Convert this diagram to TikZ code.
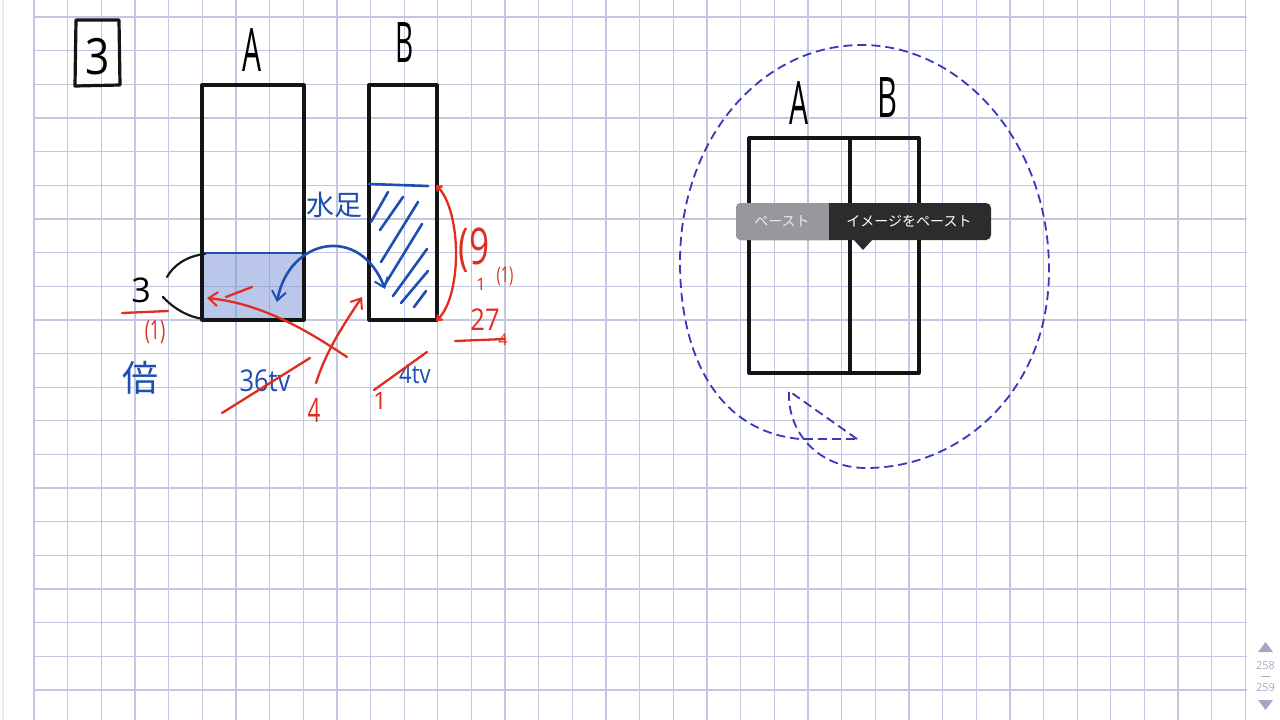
\documentclass[tikz,border=0pt]{standalone}
\usepackage{fontspec}
\setmainfont{Open Sans}
\newfontfamily\jp{Noto Sans CJK JP}
\usetikzlibrary{arrows.meta}
\definecolor{gridc}{RGB}{192,199,222}
\definecolor{inkblue}{RGB}{30,78,178}
\definecolor{inkred}{RGB}{226,44,30}
\definecolor{lasso}{RGB}{62,52,192}
\definecolor{waterblue}{RGB}{120,145,215}
\definecolor{popgray}{RGB}{152,152,156}
\definecolor{popdark}{RGB}{44,44,46}
\definecolor{scrollc}{RGB}{160,168,196}
\tikzset{
  gridline/.style={draw=gridc, line width=1.3pt},
  blackpen/.style={draw=black!92, line width=3.2pt, line cap=round, line join=round},
  thinblack/.style={draw=black!90, line width=2.2pt, line cap=round},
  bluepen/.style={draw=inkblue, line width=2.6pt, line cap=round, line join=round},
  redpen/.style={draw=inkred, line width=2.3pt, line cap=round, line join=round},
  hand/.style={inner sep=0pt, outer sep=0pt},
  barb/.style={-{Straight Barb[length=9pt,width=14pt,line width=2pt]}},
  dbarb/.style={{Straight Barb[length=9pt,width=14pt,line width=2pt]}-{Straight Barb[length=9pt,width=14pt,line width=2pt]}},
  lassopen/.style={draw=lasso, line width=1.8pt, dash pattern=on 9pt off 5pt, line join=round},
}
\begin{document}
\begin{tikzpicture}[x=1pt,y=-1pt]
\useasboundingbox (0,0) rectangle (1280,720);
\fill[white] (0,0) rectangle (1280,720);
% grid paper
\draw[draw=black!8, line width=1.2pt] (3,0) -- (3,720);
\foreach \i in {0,...,36} \draw[gridline] ({34+33.65*\i},0) -- ({34+33.65*\i},720);
\foreach \j in {0,...,20} \draw[gridline] (34,{17+33.65*\j}) -- (1247,{17+33.65*\j});

% ---------- left diagram ----------
\draw[blackpen] (76,20) -- (119,20) -- (120,85) -- (75,86) -- (76,20);
\node[hand, font=\fontsize{50}{50}\selectfont] (num) at (98,57) {\scalebox{0.85}[1]{3}};

\node[hand, font=\fontsize{60}{60}\selectfont] (labA) at (252,50) {\scalebox{0.5}[1]{A}};
\node[hand, font=\fontsize{56}{56}\selectfont] (labB) at (405,43) {\scalebox{0.5}[1]{B}};

% water in A
\fill[waterblue, fill opacity=0.5] (202,253) rectangle (304,320);
\draw[bluepen] (203,253) -- (303,253);
\node[draw=none, minimum width=102pt, minimum height=235pt, anchor=north west, inner sep=0pt] (boxA) at (202,85) {};
\draw[blackpen] (202,85) rectangle (304,320);
\node[draw=none, minimum width=68pt, minimum height=235pt, anchor=north west, inner sep=0pt] (boxB) at (369,85) {};
\draw[blackpen] (369,85) rectangle (437,320);

% brace with 3
\coordinate (brTop) at (205,254);
\coordinate (brBot) at (205,319);
\draw[thinblack] (brTop) .. controls (186,256) and (173,266) .. (167,277);
\draw[thinblack] (163,297) .. controls (174,309) and (190,318) .. (brBot);
\node[hand, font=\fontsize{34}{34}\selectfont] (three) at (141,290) {3};
\draw[redpen] (122,313) -- (168,311);
\node[hand, text=inkred, font=\fontsize{22}{22}\selectfont] (one) at (155,332) {\scalebox{0.8}[1.2]{(1)}};
\node[hand, text=inkblue, font=\jp\fontsize{36}{36}\selectfont] (bai) at (140,378) {倍};

% B hatch
\node[hand, text=inkblue, font=\jp\fontsize{28}{28}\selectfont] (mizu) at (334,205) {水足};
\draw[bluepen] (369,184) -- (428,186);
\draw[bluepen] (388,192) -- (371,222);
\draw[bluepen] (403,197) -- (380,230);
\draw[bluepen] (418,202) -- (381,262);
\draw[bluepen] (422,224) -- (384,286);
\draw[bluepen] (427,249) -- (393,296);
\draw[bluepen] (428,271) -- (401,303);
\draw[bluepen] (426,291) -- (414,307);

% blue double arrow A <-> B
\coordinate (arA) at (277,302);
\coordinate (arB) at (385,289);
\draw[bluepen, dbarb] (arA) .. controls (289,238) and (360,224) .. (arB);

% red strokes
\draw[redpen] (226,297) -- (252,287);
\coordinate (rA) at (207,298);
\coordinate (rStart) at (347,357);
\draw[redpen, barb] (rStart) .. controls (318,338) and (268,304) .. (rA);
\coordinate (rB) at (362,297);
\coordinate (rLow) at (316,383);
\draw[redpen, barb] (rLow) .. controls (326,352) and (340,330) .. (rB);
\node[hand, text=inkred, font=\fontsize{28}{28}\selectfont] (four) at (314,410) {\scalebox{0.8}[1.2]{4}};

\node[hand, text=inkblue, font=\fontsize{30}{30}\selectfont] (vA) at (265,381) {\scalebox{0.85}[1]{36tv}};
\draw[redpen] (222,413) -- (310,358);
\node[hand, text=inkblue, font=\fontsize{26}{26}\selectfont] (vB) at (415,374) {\scalebox{0.85}[1]{4tv}};
\draw[redpen] (374,390) -- (427,352);
\node[hand, text=inkred, font=\fontsize{24}{24}\selectfont] (oneB) at (380,401) {1};

% red bracket right of B
\coordinate (bTop) at (436,185);
\coordinate (bBot) at (436,321);
\draw[redpen, {Straight Barb[length=4pt,width=7pt]}-{Straight Barb[length=4pt,width=7pt]}] (bTop) .. controls (462,212) and (462,296) .. (bBot);
\node[hand, text=inkred, font=\fontsize{44}{44}\selectfont] (nine) at (474,250) {\scalebox{0.8}[1.15]{(9}};
\node[hand, text=inkred, font=\fontsize{17}{17}\selectfont] (oneC) at (481,284) {1};
\node[hand, text=inkred, font=\fontsize{18}{18}\selectfont] (oneD) at (505,276) {\scalebox{0.8}[1.2]{(1)}};
\node[hand, text=inkred, font=\fontsize{30}{30}\selectfont] (tws) at (485,320) {\scalebox{0.85}[1]{27}};
\draw[redpen] (455,341) -- (505,339);
\node[hand, text=inkred, font=\fontsize{16}{16}\selectfont] (fourB) at (503,340) {4};

% ---------- right diagram ----------
\node[hand, font=\fontsize{60}{60}\selectfont] (labA2) at (799,103) {\scalebox{0.5}[1]{A}};
\node[hand, font=\fontsize{56}{56}\selectfont] (labB2) at (887,98) {\scalebox{0.55}[1]{B}};
\node[draw=none, minimum width=170pt, minimum height=235pt, anchor=north west, inner sep=0pt] (box2) at (749,138) {};
\draw[blackpen] (749,138) rectangle (919,373);
\draw[blackpen] (850,138) -- (850,373);

% lasso selection
\coordinate (lTip) at (857,439);
\coordinate (lStart) at (789,391);
\draw[lassopen] (lTip) -- (lStart)
  .. controls (787,432) and (818,468) .. (866,468)
  .. controls (962,468) and (1050,390) .. (1049,268)
  .. controls (1048,140) and (960,45) .. (862,45)
  .. controls (760,45) and (680,140) .. (680,262)
  .. controls (680,362) and (722,432) .. (800,439) -- (lTip);

% paste popup
\fill[popdark, rounded corners=5pt] (736,203) rectangle (991,240);
\fill[popgray, rounded corners=5pt] (736,203) rectangle (834,240);
\fill[popdark] (829,203) rectangle (840,240);
\fill[popdark] (853,239) -- (873,239) -- (863,250) -- cycle;
\node[hand, text=white!92!black, font=\jp\fontsize{14}{14}\selectfont] (paste1) at (782,221) {ペースト};
\node[hand, text=white, font=\jp\fontsize{14}{14}\selectfont] (paste2) at (909,221) {イメージをペースト};

% page indicator
\fill[scrollc] (1258,652) -- (1273,652) -- (1265.5,642) -- cycle;
\node[hand, text=scrollc, font=\fontsize{11}{11}\selectfont] (p1) at (1265.5,666) {258};
\draw[scrollc, line width=1pt] (1261,676.5) -- (1270,676.5);
\node[hand, text=scrollc, font=\fontsize{11}{11}\selectfont] (p2) at (1265.5,688) {259};
\fill[scrollc] (1258,700) -- (1273,700) -- (1265.5,710) -- cycle;
\end{tikzpicture}
\end{document}
